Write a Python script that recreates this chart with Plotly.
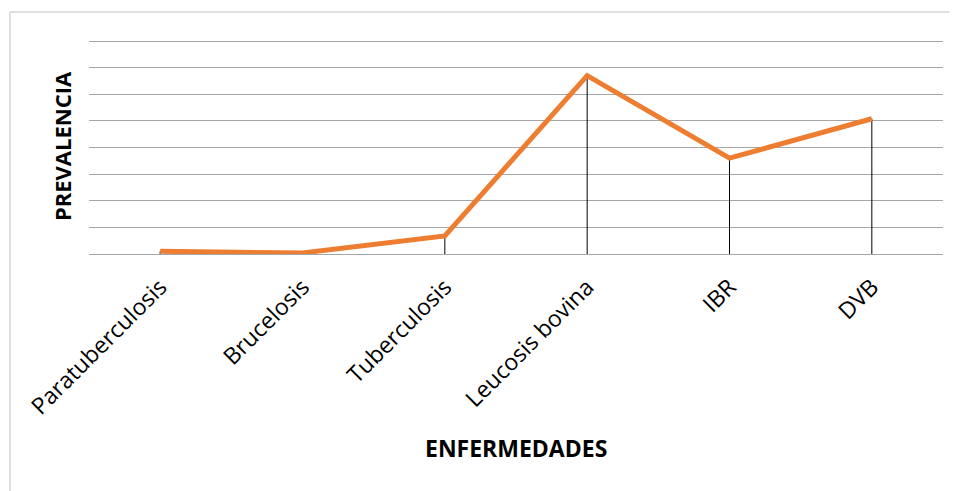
import plotly.graph_objects as go

categories = ["Paratuberculosis", "Brucelosis", "Tuberculosis", "Leucosis bovina", "IBR", "DVB"]
prevalence = [0.5, 0.2, 3.4, 33.5, 18.0, 25.4]
zeros = [0] * len(prevalence)
grid_values = [0, 5, 10, 15, 20, 25, 30, 35, 40]

fig = go.Figure()
fig.add_trace(go.Scatter(
    x=categories, y=prevalence, mode="lines",
    line=dict(color="#ED7D31", width=5),
    error_y=dict(type="data", symmetric=False, array=zeros, arrayminus=prevalence,
                 color="#000000", thickness=1, width=0),
    hoverinfo="x+y", showlegend=False,
))

fig.update_layout(
    width=949, height=483,
    margin=dict(l=81, r=14, t=31, b=237),
    paper_bgcolor="white", plot_bgcolor="white",
    font=dict(family="Open Sans, Liberation Sans, sans-serif", color="#000000"),
    xaxis=dict(showgrid=False, showline=False, zeroline=False, ticks="",
               range=[-0.5, 5.5],
               tickangle=-45, tickfont=dict(size=23), automargin=False,
               ticklabelstandoff=14),
    yaxis=dict(range=[0, 40.376], tickvals=grid_values,
               showticklabels=False, showgrid=True, automargin=False,
               gridcolor="#A6A6A6", gridwidth=1, zeroline=True, zerolinecolor="#A6A6A6",
               zerolinewidth=1, showline=False, ticks=""),
    annotations=[
        dict(text="<b>ENFERMEDADES</b>", xref="paper", yref="paper", x=0.5, y=-0.902,
             showarrow=False, font=dict(size=23), xanchor="center", yanchor="middle"),
        dict(text="<b>PREVALENCIA</b>", xref="paper", yref="paper", x=-0.0316, y=0.502,
             showarrow=False, font=dict(size=22), textangle=-90,
             xanchor="center", yanchor="middle"),
    ],
    shapes=[
        dict(type="rect", xref="paper", yref="paper", x0=-0.0925, y0=-1.3, x1=1.1, y1=1.1256,
             line=dict(color="#BFBFBF", width=1), layer="below"),
    ],
)

fig.write_html("out.html")
